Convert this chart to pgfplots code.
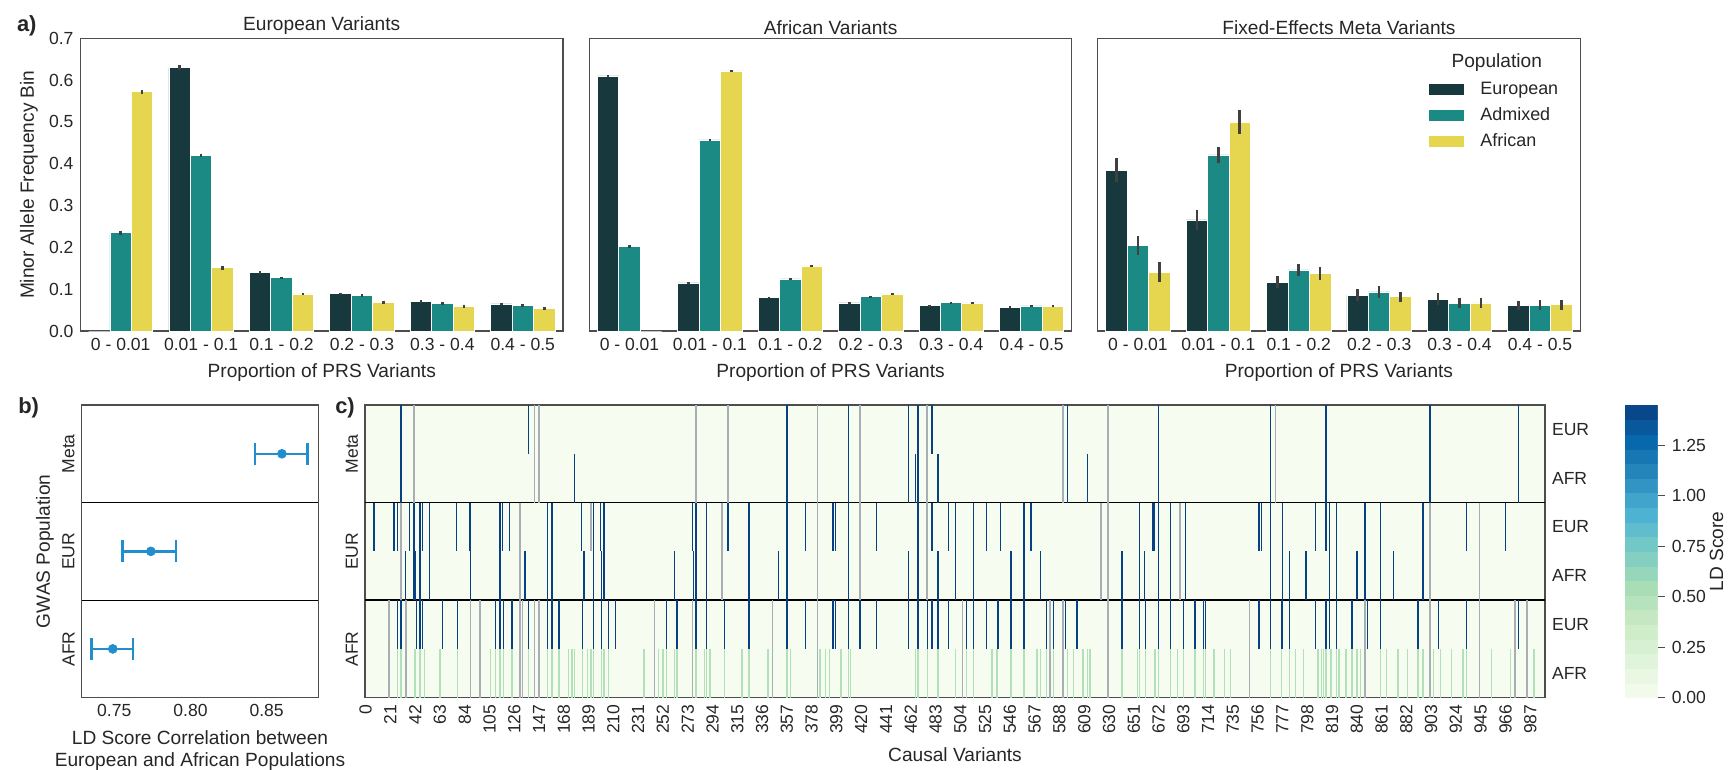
\documentclass[border=0pt]{standalone}
\usepackage{fontspec}
\setmainfont{Liberation Sans}
\usepackage{pgfplots}
\usepackage{pgfplotstable}
\pgfplotsset{compat=1.18}
\definecolor{ceur}{HTML}{17383C}
\definecolor{cadm}{HTML}{1B8A84}
\definecolor{cafr}{HTML}{E5D54F}
\definecolor{ebarc}{HTML}{404040}
\definecolor{frame}{HTML}{4D4D4D}
\definecolor{txt}{HTML}{262626}
\definecolor{ptblue}{HTML}{238ECE}
\definecolor{nanc}{HTML}{A9AEB5}
\definecolor{hm0}{RGB}{247,252,240}
\pgfplotsset{
  colormap={gnbu}{rgb255=(247,252,240) rgb255=(224,243,219) rgb255=(204,235,197) rgb255=(168,221,181) rgb255=(123,204,196) rgb255=(78,179,211) rgb255=(43,140,190) rgb255=(8,104,172) rgb255=(8,64,129)},
  myax/.style={scale only axis, axis line style={draw=frame, line width=0.7bp},
    tick style={draw=none}, xtick style={draw=none}, ytick style={draw=none},
    major tick length=0pt, minor tick length=0pt,
    tick label style={font=\fontsize{8.8}{10}\selectfont},
    label style={font=\fontsize{9.6}{11}\selectfont},
    title style={font=\fontsize{9.6}{11}\selectfont, yshift=-7.5bp},
    /pgf/number format/assume math mode=true},
  barax/.style={myax, anchor=north west, width=241.25bp, height=146.35bp,
    xmin=-0.5, xmax=5.5, ymin=0, ymax=0.7, ybar, bar width=0.2667,
    xtick={0,1,2,3,4,5},
    xticklabels={0 - 0.01, 0.01 - 0.1, 0.1 - 0.2, 0.2 - 0.3, 0.3 - 0.4, 0.4 - 0.5},
    ytick={0,0.1,0.2,0.3,0.4,0.5,0.6,0.7},
    yticklabel style={/pgf/number format/.cd, fixed, fixed zerofill, precision=1},
    xlabel={Proportion of PRS Variants}},
  ebar/.style={error bars/.cd, y dir=both, y explicit, error mark=none,
    error bar style={line width=1.3bp, draw=ebarc}},
  hm/.style={scatter, only marks, mark=|, mark size=12.2bp,
    scatter/use mapped color={draw=mapped color, fill=mapped color},
    mark options={line width=0.7bp}},
}

\pgfplotstableread{
x eur eure adm adme afr afre
0 0.000 0.000 0.235 0.005 0.572 0.005
1 0.630 0.006 0.419 0.004 0.151 0.004
2 0.1395 0.003 0.127 0.003 0.0885 0.003
3 0.089 0.003 0.0845 0.003 0.068 0.003
4 0.070 0.003 0.066 0.003 0.058 0.003
5 0.0646 0.003 0.0614 0.003 0.0534 0.003
}\tabEurVar
\pgfplotstableread{
x eur eure adm adme afr afre
0 0.610 0.003 0.2017 0.003 0.000 0.000
1 0.1148 0.003 0.4568 0.003 0.6219 0.003
2 0.0805 0.002 0.1244 0.002 0.1555 0.002
3 0.067 0.002 0.0821 0.002 0.0885 0.002
4 0.0606 0.002 0.0678 0.002 0.067 0.002
5 0.0574 0.002 0.0598 0.002 0.059 0.002
}\tabAfrVar
\pgfplotstableread{
x eur eure adm adme afr afre
0 0.385 0.029 0.204 0.023 0.141 0.024
1 0.2655 0.025 0.421 0.020 0.500 0.029
2 0.117 0.014 0.146 0.015 0.137 0.015
3 0.086 0.014 0.0933 0.015 0.082 0.012
4 0.0765 0.014 0.066 0.012 0.067 0.012
5 0.0606 0.011 0.062 0.012 0.063 0.012
}\tabMetaVar

\pgfplotstableread{
x y v
30 5.5 1.0
138 5.5 0.38
357 5.5 1.0
409 5.5 1.1
460 5.5 0.95
468 5.5 1.0
480 5.5 0.14
595 5.5 0.95
672 5.5 1.45
767 5.5 0.95
814 5.5 1.35
902 5.5 1.45
977 5.5 0.95
30 4.5 1.0
177 4.5 0.95
357 4.5 1.0
409 4.5 0.22
460 4.5 0.95
466 4.5 0.14
468 4.5 0.9
485 4.5 0.18
595 4.5 0.9
612 4.5 0.9
672 4.5 1.25
767 4.5 1.0
814 4.5 1.2
902 4.5 1.25
977 4.5 0.95
7 3.5 0.38
24 3.5 0.14
27 3.5 0.14
37 3.5 0.14
41 3.5 1.35
46 3.5 1.0
48 3.5 0.28
54 3.5 0.14
77 3.5 0.14
88 3.5 1.4
89 3.5 1.4
114 3.5 1.35
116 3.5 0.14
122 3.5 0.22
154 3.5 1.35
158 3.5 1.35
183 3.5 0.18
193 3.5 1.35
199 3.5 0.14
202 3.5 1.35
277 3.5 0.95
280 3.5 1.35
289 3.5 1.35
307 3.5 1.35
325 3.5 1.35
357 3.5 1.35
373 3.5 0.18
396 3.5 1.35
398 3.5 0.14
409 3.5 1.4
433 3.5 1.35
468 3.5 1.35
480 3.5 1.05
494 3.5 0.14
500 3.5 0.14
515 3.5 1.35
526 3.5 0.14
538 3.5 0.28
558 3.5 0.22
564 3.5 0.14
656 3.5 1.35
667 3.5 0.14
668 3.5 0.14
672 3.5 1.35
682 3.5 1.05
695 3.5 1.1
757 3.5 0.14
759 3.5 0.14
767 3.5 1.35
777 3.5 1.35
805 3.5 0.14
814 3.5 1.35
817 3.5 0.32
823 3.5 0.9
847 3.5 1.35
860 3.5 1.35
896 3.5 0.14
933 3.5 1.0
966 3.5 0.28
34 2.5 0.18
41 2.5 1.35
42 2.5 1.3
46 2.5 0.32
54 2.5 1.0
89 2.5 0.38
114 2.5 0.14
135 2.5 0.22
154 2.5 1.1
158 2.5 1.15
185 2.5 0.18
193 2.5 1.1
200 2.5 0.14
202 2.5 0.38
262 2.5 0.12
278 2.5 0.14
280 2.5 0.22
289 2.5 1.35
325 2.5 1.15
350 2.5 0.65
357 2.5 1.15
409 2.5 1.4
460 2.5 0.14
468 2.5 0.9
485 2.5 0.14
500 2.5 0.14
515 2.5 0.9
547 2.5 0.22
558 2.5 0.14
572 2.5 0.14
641 2.5 0.14
656 2.5 0.28
660 2.5 0.28
672 2.5 1.35
682 2.5 0.14
695 2.5 0.14
767 2.5 1.35
777 2.5 0.95
783 2.5 0.14
797 2.5 0.14
817 2.5 1.3
823 2.5 0.14
840 2.5 0.14
847 2.5 0.28
860 2.5 1.15
871 2.5 0.22
896 2.5 0.14
27 1.5 1.35
30 1.5 1.35
43 1.5 1.35
46 1.5 1.35
48 1.5 0.28
65 1.5 0.14
78 1.5 0.14
110 1.5 0.85
114 1.5 1.35
117 1.5 1.4
124 1.5 0.7
138 1.5 1.35
154 1.5 0.38
158 1.5 1.35
164 1.5 0.18
184 1.5 1.2
193 1.5 1.35
200 1.5 1.4
206 1.5 1.35
212 1.5 0.14
255 1.5 1.4
264 1.5 1.35
280 1.5 1.35
289 1.5 0.22
304 1.5 0.45
325 1.5 1.35
357 1.5 1.35
373 1.5 0.18
396 1.5 0.45
398 1.5 0.22
409 1.5 1.4
419 1.5 0.14
433 1.5 0.14
460 1.5 1.35
468 1.5 0.9
476 1.5 1.45
480 1.5 1.35
485 1.5 1.35
494 1.5 0.14
509 1.5 1.1
515 1.5 1.35
526 1.5 0.14
536 1.5 1.1
547 1.5 1.0
558 1.5 1.35
577 1.5 1.35
583 1.5 1.35
593 1.5 0.7
603 1.5 0.85
641 1.5 1.4
656 1.5 1.35
661 1.5 1.35
672 1.5 1.45
682 1.5 1.35
693 1.5 1.35
703 1.5 1.4
710 1.5 1.35
712 1.5 1.35
757 1.5 0.14
767 1.5 1.35
776 1.5 1.35
777 1.5 1.35
783 1.5 1.35
805 1.5 0.28
814 1.5 1.35
817 1.5 1.35
823 1.5 1.4
836 1.5 1.35
849 1.5 0.9
860 1.5 1.35
892 1.5 1.35
909 1.5 1.35
933 1.5 1.35
977 1.5 1.35
27 0.5 1.35
30 0.5 1.35
42 0.5 1.35
46 0.5 1.35
50 0.5 0.7
63 0.5 0.12
78 0.5 0.14
106 0.5 0.9
110 0.5 0.45
114 0.5 1.35
117 0.5 1.4
124 0.5 0.45
138 0.5 1.1
154 0.5 0.8
158 0.5 1.35
164 0.5 0.18
172 0.5 0.5
175 0.5 1.35
177 0.5 1.4
184 0.5 0.45
188 0.5 0.38
191 0.5 0.14
193 0.5 1.1
200 0.5 0.7
202 0.5 1.2
206 0.5 1.35
236 0.5 0.14
248 0.5 0.14
252 0.5 0.14
255 0.5 0.22
262 0.5 1.4
264 0.5 1.35
280 0.5 1.35
287 0.5 0.14
289 0.5 0.14
292 0.5 1.1
304 0.5 0.7
319 0.5 0.14
325 0.5 1.35
341 0.5 0.14
357 0.5 1.35
360 0.5 0.9
385 0.5 0.14
390 0.5 0.14
393 0.5 0.14
403 0.5 0.32
409 0.5 1.4
411 0.5 0.32
466 0.5 1.35
468 0.5 0.9
476 0.5 1.45
485 0.5 1.35
500 0.5 1.35
509 0.5 0.32
515 0.5 1.35
531 0.5 1.1
535 0.5 0.95
547 0.5 1.35
558 0.5 1.35
569 0.5 0.38
572 0.5 0.28
577 0.5 1.35
583 0.5 1.35
595 0.5 1.35
600 0.5 0.38
608 0.5 1.4
612 0.5 1.35
614 0.5 0.38
641 0.5 0.85
654 0.5 0.14
656 0.5 1.35
661 0.5 1.15
669 0.5 0.14
672 0.5 1.45
682 0.5 1.35
688 0.5 1.35
693 0.5 1.35
703 0.5 0.28
710 0.5 1.15
712 0.5 1.35
719 0.5 0.32
728 0.5 0.14
733 0.5 0.14
767 0.5 1.35
776 0.5 1.35
783 0.5 0.38
788 0.5 0.28
795 0.5 1.35
807 0.5 0.32
810 0.5 0.38
812 0.5 0.32
814 0.5 1.35
818 0.5 0.32
823 0.5 1.4
825 0.5 1.35
831 0.5 0.22
836 0.5 0.18
840 0.5 0.28
843 0.5 0.22
860 0.5 1.35
865 0.5 0.22
875 0.5 0.28
883 0.5 1.35
892 0.5 1.35
896 0.5 0.22
905 0.5 0.22
911 0.5 0.22
920 0.5 0.14
930 0.5 1.35
933 0.5 0.95
954 0.5 0.14
970 0.5 0.14
990 0.5 0.14
}\tabHeat

\pgfplotstableread{
x y
41 5.5
143 5.5
147 5.5
280 5.5
307 5.5
383 5.5
419 5.5
476 5.5
591 5.5
629 5.5
771 5.5
41 4.5
143 4.5
147 4.5
280 4.5
307 4.5
383 4.5
419 4.5
476 4.5
591 4.5
629 4.5
771 4.5
30 3.5
131 3.5
191 3.5
302 3.5
383 3.5
419 3.5
476 3.5
623 3.5
629 3.5
690 3.5
902 3.5
944 3.5
30 2.5
131 2.5
302 2.5
383 2.5
419 2.5
476 2.5
623 2.5
629 2.5
690 2.5
902 2.5
944 2.5
20 1.5
34 1.5
89 1.5
97 1.5
131 1.5
133 1.5
143 1.5
147 1.5
245 1.5
277 1.5
345 1.5
383 1.5
506 1.5
580 1.5
591 1.5
629 1.5
749 1.5
847 1.5
902 1.5
944 1.5
974 1.5
984 1.5
20 0.5
34 0.5
89 0.5
97 0.5
131 0.5
133 0.5
143 0.5
147 0.5
245 0.5
277 0.5
345 0.5
383 0.5
506 0.5
580 0.5
591 0.5
629 0.5
749 0.5
847 0.5
902 0.5
944 0.5
974 0.5
984 0.5
}\tabNaN

\begin{document}
\color{txt}
\begin{tikzpicture}
\useasboundingbox (0,0) rectangle (864bp,-385bp);

% ---------- panel a ----------
\begin{axis}[barax, at={(40.25bp,-19.15bp)}, title={European Variants},
  ylabel={Minor Allele Frequency Bin},
  ylabel style={at={(axis description cs:-0.107,0.5)}, anchor=center}]
\addplot[fill=ceur, draw=white, line width=0.4bp, bar shift=-0.2667, ebar] table[x=x, y=eur, y error=eure] {\tabEurVar};
\addplot[fill=cadm, draw=white, line width=0.4bp, bar shift=0, ebar] table[x=x, y=adm, y error=adme] {\tabEurVar};
\addplot[fill=cafr, draw=white, line width=0.4bp, bar shift=0.2667, ebar] table[x=x, y=afr, y error=afre] {\tabEurVar};
\end{axis}

\begin{axis}[barax, at={(294.65bp,-19.15bp)}, title={African Variants}, yticklabels={}]
\addplot[fill=ceur, draw=white, line width=0.4bp, bar shift=-0.2667, ebar] table[x=x, y=eur, y error=eure] {\tabAfrVar};
\addplot[fill=cadm, draw=white, line width=0.4bp, bar shift=0, ebar] table[x=x, y=adm, y error=adme] {\tabAfrVar};
\addplot[fill=cafr, draw=white, line width=0.4bp, bar shift=0.2667, ebar] table[x=x, y=afr, y error=afre] {\tabAfrVar};
\end{axis}

\begin{axis}[barax, at={(548.85bp,-19.15bp)}, title={Fixed-Effects Meta Variants}, yticklabels={},
  legend style={at={(0.683,0.865)}, anchor=north west, draw=none, fill=none, inner sep=0pt,
    row sep=2bp, column sep=7bp, font=\fontsize{9}{11}\selectfont,
    nodes={inner sep=1bp, text height=7bp, text depth=2bp}},
  legend cell align=left,
  legend image code/.code={\fill[#1] (0bp,-3bp) rectangle (18bp,3bp);}]
\addplot[fill=ceur, draw=white, line width=0.4bp, bar shift=-0.2667, ebar] table[x=x, y=eur, y error=eure] {\tabMetaVar};
\addplot[fill=cadm, draw=white, line width=0.4bp, bar shift=0, ebar] table[x=x, y=adm, y error=adme] {\tabMetaVar};
\addplot[fill=cafr, draw=white, line width=0.4bp, bar shift=0.2667, ebar] table[x=x, y=afr, y error=afre] {\tabMetaVar};
\legend{European, Admixed, African}
\node[font=\fontsize{9.6}{11}\selectfont] at (rel axis cs:0.827,0.916) {Population};
\end{axis}

% ---------- panel b ----------
\begin{axis}[myax, at={(40.85bp,-202.5bp)}, anchor=north west, width=118.3bp, height=146.35bp,
  xmin=0.7286, xmax=0.8839, ymin=0, ymax=3,
  xtick={0.75,0.80,0.85},
  xticklabel style={/pgf/number format/.cd, fixed, fixed zerofill, precision=2},
  ytick={0.5,1.5,2.5}, yticklabels={AFR,EUR,Meta},
  yticklabel style={rotate=90, anchor=south},
  ylabel={GWAS Population},
  ylabel style={at={(axis description cs:-0.155,0.5)}, anchor=center},
  xlabel={LD Score Correlation between\\European and African Populations},
  xlabel style={align=center}]
\draw[black, line width=0.6bp] (rel axis cs:0,0.3333) -- (rel axis cs:1,0.3333);
\draw[black, line width=0.6bp] (rel axis cs:0,0.6667) -- (rel axis cs:1,0.6667);
\addplot[only marks, mark=*, mark size=2.2bp, color=ptblue,
  error bars/.cd, x dir=both, x explicit, error mark=none,
  error bar style={line width=1.2bp, color=ptblue}]
  coordinates {
  (0.860,2.5) += (0.0169,0) -= (0.0177,0)
  (0.774,1.5) += (0.0163,0) -= (0.0185,0)
  (0.749,0.5) += (0.0131,0) -= (0.0139,0)
  };
\addplot[only marks, mark=|, mark size=5.5bp, color=ptblue, mark options={line width=1.2bp}]
  coordinates {(0.8423,2.5) (0.8769,2.5) (0.7555,1.5) (0.7903,1.5) (0.7351,0.5) (0.7621,0.5)};
\end{axis}

% ---------- panel c ----------
\begin{axis}[myax, at={(182.5bp,-202.5bp)}, anchor=north west, width=590bp, height=146.35bp,
  xmin=-0.5, xmax=999.5, ymin=0, ymax=6,
  xtick={0,21,...,987},
  xticklabel style={rotate=90, anchor=east},
  ytick={1,3,5}, yticklabels={AFR,EUR,Meta},
  yticklabel style={rotate=90, anchor=south},
  xlabel={Causal Variants},
  axis background/.style={fill=hm0},
  colormap name=gnbu, point meta min=0, point meta max=1.45,
  colorbar, colorbar sampled,
  colorbar style={at={(parent axis.north east)}, anchor=north west, xshift=31.5bp,
    scale only axis, width=16.35bp, height=146.35bp, samples=21,
    ytick={0,0.25,0.5,0.75,1,1.25},
    ytick pos=right, yticklabel pos=right,
    yticklabel style={font=\fontsize{8.8}{10}\selectfont,
      /pgf/number format/.cd, fixed, fixed zerofill, precision=2, assume math mode=true},
    ylabel={LD Score},
    ylabel style={font=\fontsize{9.6}{11}\selectfont, at={(axis description cs:2.8,0.5)}, anchor=center},
    axis line style={draw=none},
    ytick style={draw=frame, line width=0.6bp}, major tick length=3.5bp, tick align=outside}]
\addplot[hm] table[x=x, y=y, meta=v] {\tabHeat};
\addplot[only marks, mark=|, mark size=12.2bp, color=nanc, mark options={line width=0.8bp}] table[x=x, y=y] {\tabNaN};
\draw[black, line width=0.8bp] (rel axis cs:0,0.3333) -- (rel axis cs:1,0.3333);
\draw[black, line width=0.8bp] (rel axis cs:0,0.6667) -- (rel axis cs:1,0.6667);
\end{axis}

\begin{axis}[at={(182.5bp,-202.5bp)}, anchor=north west, scale only axis, width=590bp, height=146.35bp,
  xmin=-0.5, xmax=999.5, ymin=0, ymax=6, hide x axis, axis y line*=right,
  y axis line style={draw=none}, tick style={draw=none}, major tick length=0pt,
  ytick={0.5,1.5,2.5,3.5,4.5,5.5}, yticklabels={AFR,EUR,AFR,EUR,AFR,EUR},
  yticklabel style={font=\fontsize{8.8}{10}\selectfont}]
\end{axis}

\node[font=\bfseries\fontsize{11}{13}\selectfont] at (13.4bp,-13bp) {a)};
\node[font=\bfseries\fontsize{11}{13}\selectfont] at (14.3bp,-204bp) {b)};
\node[font=\bfseries\fontsize{11}{13}\selectfont] at (172.5bp,-204bp) {c)};
\end{tikzpicture}
\end{document}
